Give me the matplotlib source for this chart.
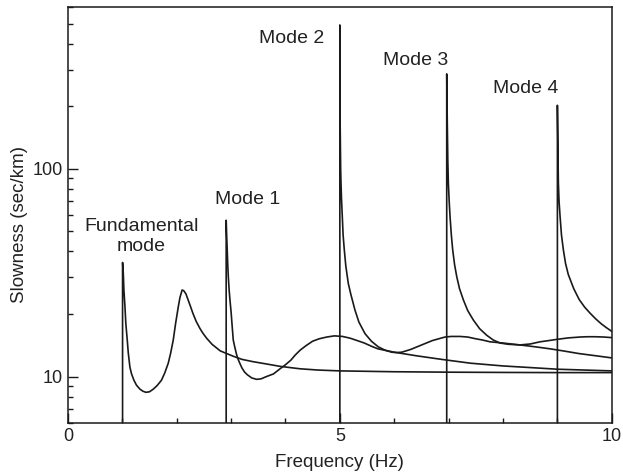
import matplotlib
matplotlib.use("Agg")
import matplotlib.pyplot as plt

plt.rcParams['font.family'] = ['Liberation Sans', 'DejaVu Sans']

# slowness curves for each mode: frequency (Hz), slowness (sec/km)
# each curve starts below the axis so the resonance shows as a vertical line
fund_f = [1.005, 1.005, 1.018, 1.03, 1.049, 1.065, 1.091, 1.11, 1.14, 1.17, 1.214,
          1.26, 1.324, 1.38, 1.435, 1.5, 1.57, 1.64, 1.72, 1.78, 1.845, 1.89,
          1.937, 1.98, 2.03, 2.06, 2.10, 2.13, 2.17, 2.21, 2.25, 2.30, 2.36,
          2.43, 2.48, 2.55, 2.65, 2.80, 2.92, 3.05, 3.2, 3.4, 3.65, 3.9, 4.27,
          4.6, 5.0, 5.5, 6.0, 7.0, 8.0, 9.0, 10.0]
fund_s = [1.0, 35.4, 31.5, 26.0, 21.7, 18.0, 15.0, 13.0, 11.1, 10.3, 9.6,
          9.1, 8.7, 8.5, 8.4, 8.45, 8.7, 9.05, 9.6, 10.4, 11.6, 13.0,
          15.0, 18.0, 21.7, 24.0, 26.1, 25.9, 25.0, 23.4, 21.9, 20.1, 18.4,
          17.0, 16.2, 15.3, 14.3, 13.3, 12.9, 12.5, 12.1, 11.8, 11.5, 11.2, 10.9,
          10.75, 10.65, 10.6, 10.55, 10.5, 10.47, 10.45, 10.45]

mode1_f = [2.91, 2.91, 2.92, 2.93, 2.94, 2.95, 2.965, 2.98, 3.0, 3.02, 3.04,
           3.07, 3.10, 3.13, 3.16, 3.20, 3.25, 3.30, 3.38, 3.47, 3.55, 3.65,
           3.78, 3.90, 4.00, 4.10, 4.18, 4.27, 4.38, 4.50, 4.62, 4.76, 4.90,
           5.05, 5.19, 5.32, 5.45, 5.58, 5.70, 6.00, 6.40, 6.87, 7.40, 8.00,
           8.50, 9.00, 9.50, 10.0]
mode1_s = [1.0, 56.5, 47.0, 40.0, 34.0, 30.0, 26.0, 23.3, 20.5, 17.5, 15.0,
           13.8, 12.8, 12.1, 11.6, 11.0, 10.5, 10.2, 9.85, 9.7, 9.75, 10.0,
           10.3, 10.9, 11.4, 12.0, 12.7, 13.4, 14.1, 14.8, 15.2, 15.5, 15.7,
           15.6, 15.3, 14.9, 14.5, 14.0, 13.6, 13.1, 12.6, 12.1, 11.6, 11.25,
           11.05, 10.85, 10.75, 10.65]

mode2_f = [5.0, 5.0, 5.003, 5.005, 5.01, 5.015, 5.021, 5.03, 5.045, 5.06, 5.082,
           5.11, 5.155, 5.2, 5.278, 5.35, 5.462, 5.58, 5.707, 5.83, 5.954,
           6.04, 6.138, 6.3, 6.505, 6.7, 6.934, 7.05, 7.21, 7.35, 7.5, 7.62,
           7.762, 8.0, 8.31, 8.6, 8.865, 9.1, 9.4, 9.7, 10.0]
mode2_s = [1.0, 492, 216, 170, 130, 100, 85.5, 72.0, 59.0, 48.0, 40.7,
           34.0, 28.1, 25.0, 20.9, 18.3, 16.1, 14.8, 13.9, 13.4, 13.1,
           13.05, 13.1, 13.5, 14.2, 14.9, 15.5, 15.6, 15.6, 15.5, 15.2, 15.0,
           14.7, 14.5, 14.2, 13.9, 13.6, 13.3, 12.9, 12.6, 12.3]

mode3_f = [6.965, 6.965, 6.975, 6.985, 6.995, 7.01, 7.026, 7.05, 7.075, 7.11,
           7.149, 7.2, 7.271, 7.35, 7.455, 7.57, 7.701, 7.82, 7.946, 8.1,
           8.313, 8.5, 8.681, 8.84, 8.988, 9.2, 9.417, 9.55, 9.7, 9.85, 10.0]
mode3_s = [1.0, 286, 170, 110, 85.5, 70.0, 59.0, 48.0, 40.7, 34.5,
           30.3, 26.5, 23.4, 20.8, 18.7, 17.0, 15.8, 15.0, 14.5, 14.3,
           14.2, 14.35, 14.7, 14.9, 15.1, 15.35, 15.5, 15.55, 15.55, 15.5, 15.4]

mode4_f = [9.0, 9.0, 9.008, 9.012, 9.018, 9.03, 9.049, 9.075, 9.11, 9.15, 9.2,
           9.3, 9.4, 9.5, 9.6, 9.7, 9.8, 9.9, 10.0]
mode4_s = [1.0, 202, 140, 110, 85.5, 70.0, 59.0, 48.0, 40.7, 35.0, 31.0,
           26.5, 23.5, 21.6, 20.2, 19.0, 18.0, 17.2, 16.5]

# label text and where it sits (frequency, slowness)
labels = ['Fundamental\nmode', 'Mode 1', 'Mode 2', 'Mode 3', 'Mode 4']
label_f = [1.355, 3.30, 4.115, 6.39, 8.41]
label_s = [47.1, 67.9, 403, 315, 231]
label_va = ['center', 'baseline', 'baseline', 'baseline', 'baseline']

fig = plt.figure(figsize=(6.23, 4.72), dpi=100)
ax = fig.add_axes([0.109, 0.1045, 0.873, 0.8805])

for f, s in [(fund_f, fund_s), (mode1_f, mode1_s), (mode2_f, mode2_s),
             (mode3_f, mode3_s), (mode4_f, mode4_s)]:
    ax.plot(f, s, color='#1a1a1a', lw=1.2)

for txt, x, y, va in zip(labels, label_f, label_s, label_va):
    ax.text(x, y, txt, ha='center', va=va, fontsize=14, color='#222222',
            multialignment='center')

ax.set_yscale('log')
ax.set_xlim(0, 10)
ax.set_ylim(6, 600)
ax.set_xticks([0, 5, 10])
ax.set_xticks(range(0, 11), minor=True)
ax.set_yticks([10, 100])
ax.set_yticklabels(['10', '100'])

ax.tick_params(which='both', direction='in', top=False, right=False,
               labelsize=13, labelcolor='#222222', color='#1a1a1a')
ax.tick_params(which='major', length=7, width=1.0)
ax.tick_params(which='minor', length=3.5, width=1.0)
for sp in ax.spines.values():
    sp.set_linewidth(1.1)
    sp.set_color('#1a1a1a')

ax.set_xlabel('Frequency (Hz)', fontsize=13.5, color='#222222', labelpad=7)
ax.set_ylabel('Slowness (sec/km)', fontsize=13.5, color='#222222')
ax.yaxis.set_label_coords(-0.073, 0.476)

fig.savefig('out.png', dpi=100)
